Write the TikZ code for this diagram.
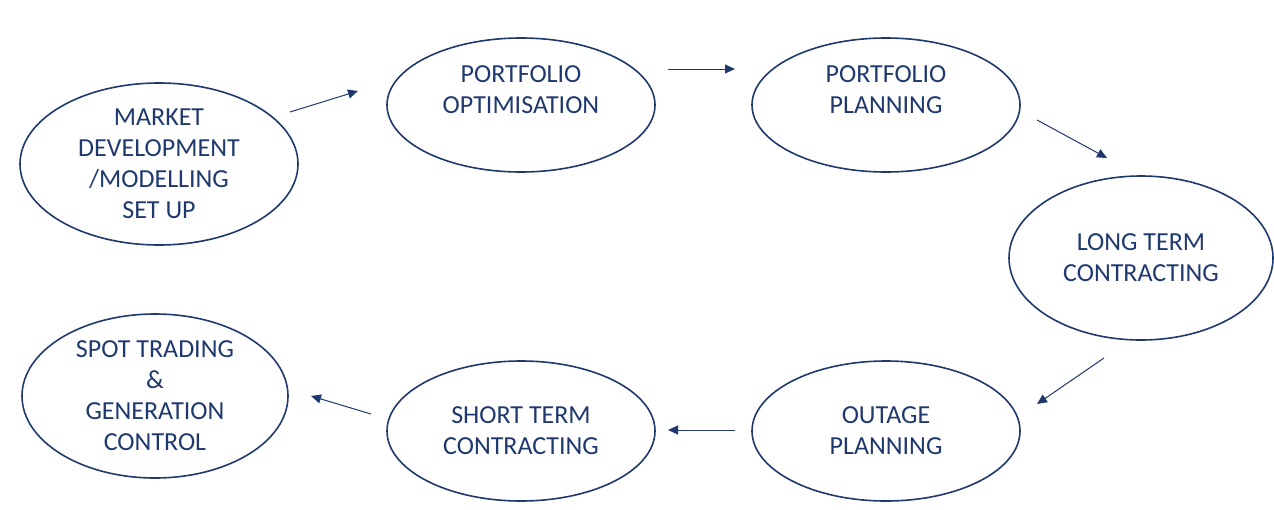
\documentclass[tikz,border=0pt]{standalone}
\usepackage{fontspec}
\setmainfont{Carlito}
\usetikzlibrary{shapes.geometric,arrows.meta}
\definecolor{navy}{RGB}{31,56,110}
\begin{document}
\begin{tikzpicture}[x=0.5pt,y=-0.5pt,
    stage/.style={ellipse,draw=navy,line width=0.8pt,text=navy,inner sep=0pt,
      align=center,font=\fontsize{13}{15.5}\selectfont},
    flow/.style={navy,line width=0.5pt,-{Triangle[length=5pt,width=4.5pt]}}]
    \useasboundingbox (0,0) rectangle (1274,509);
    \node[stage,minimum width=139pt,minimum height=81pt] (market) at (159,164) {MARKET\\DEVELOPMENT\\/MODELLING\\SET UP};
    \node[stage,minimum width=134pt,minimum height=67pt] (optim) at (521,105) {PORTFOLIO\\OPTIMISATION\\\mbox{}};
    \node[stage,minimum width=134pt,minimum height=67pt] (plan) at (886,105) {PORTFOLIO\\PLANNING\\\mbox{}};
    \node[stage,minimum width=132pt,minimum height=82pt] (longterm) at (1141,258) {LONG TERM\\CONTRACTING};
    \node[stage,minimum width=134pt,minimum height=70pt] (outage) at (886,431) {OUTAGE\\PLANNING};
    \node[stage,minimum width=134pt,minimum height=70pt] (shortterm) at (521,431) {SHORT TERM\\CONTRACTING};
    \node[stage,minimum width=133pt,minimum height=82pt] (spot) at (155,396) {SPOT TRADING\\\&\\GENERATION\\CONTROL};
    % free arrows between the stages
    \coordinate (a1) at (290,112); \coordinate (b1) at (358,91);
    \coordinate (a2) at (668,69);  \coordinate (b2) at (735,69);
    \coordinate (a3) at (1037,120); \coordinate (b3) at (1107,158);
    \coordinate (a4) at (1104,358); \coordinate (b4) at (1037,404);
    \coordinate (a5) at (735,430); \coordinate (b5) at (668,430);
    \coordinate (a6) at (371,414); \coordinate (b6) at (311,396);
    \foreach \i in {1,...,6}
        \draw[flow] (a\i) -- (b\i);
\end{tikzpicture}
\end{document}
